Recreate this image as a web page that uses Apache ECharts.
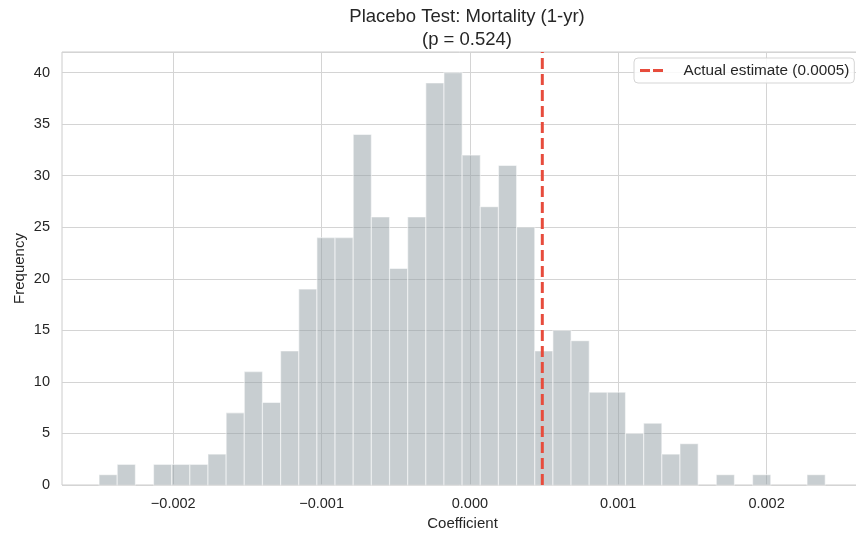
<!DOCTYPE html>
<html>
<head>
<meta charset="utf-8">
<script src="https://cdn.jsdelivr.net/npm/echarts@6/dist/echarts.min.js"></script>
<style>
  html, body { margin: 0; padding: 0; background: #ffffff; }
  #chart { width: 856px; height: 533px; }
</style>
</head>
<body>
<div id="chart"></div>
<script>
// Placebo distribution: 40 equal-width bins of permuted coefficients
const binStart = -0.0025;
const binWidth = 0.00012238;
const binCounts = [1, 2, 0, 2, 2, 2, 3, 7, 11, 8, 13, 19, 24, 24, 34, 26, 21, 26, 39, 40,
                   32, 27, 31, 25, 13, 15, 14, 9, 9, 5, 6, 3, 4, 0, 1, 0, 1, 0, 0, 1];

// Observed treatment effect and its permutation p-value
const actualEstimate = 0.000488;
const pValue = 0.524;

// Axis ranges and tick positions
const xRange = [-0.00275, 0.00265];
const xTicks = [-0.002, -0.001, 0, 0.001, 0.002];
const yRange = [0, 42];
const yTickStep = 5;

const FONT = '"Liberation Sans", Arial, "DejaVu Sans", sans-serif';
const INK = '#262626';
const GRID = '#d4d4d4';
const RED = '#e74c3c';

const bins = binCounts.map((c, i) => {
  const x0 = binStart + i * binWidth;
  return [x0, x0 + binWidth, c];
});

const fmtX = v => {
  const s = Math.abs(v).toFixed(3);
  return v < -1e-12 ? '\u2212' + s : s;
};

const legendName = 'Actual estimate (' + actualEstimate.toFixed(4) + ')';

const chart = echarts.init(document.getElementById('chart'), null, { renderer: 'canvas' });

chart.setOption({
  animation: false,
  backgroundColor: '#ffffff',
  title: {
    text: 'Placebo Test: Mortality (1-yr)\n(p = ' + pValue.toFixed(3) + ')',
    left: 462,
    top: 0,
    textAlign: 'center',
    textStyle: {
      fontFamily: FONT, fontSize: 18.5, fontWeight: 'normal', color: INK, lineHeight: 23
    }
  },
  // plot area runs past the right edge of the canvas
  grid: {
    left: 62, top: 52, width: 801, height: 433,
    outerBoundsMode: 'none',
    containLabel: false,
    show: true, borderColor: '#cccccc', borderWidth: 1, backgroundColor: 'transparent'
  },
  legend: {
    left: 634, top: 58,
    orient: 'vertical',
    padding: [5, 5, 5, 6],
    backgroundColor: 'rgba(255,255,255,0.85)',
    borderColor: '#d5d5d5', borderWidth: 1, borderRadius: 4,
    itemWidth: 24, itemHeight: 3,
    textStyle: { fontFamily: FONT, fontSize: 15.3, color: INK, padding: [0, 0, 0, 15] },
    data: [{
      name: legendName,
      icon: 'path://M0,0H10V3H0Z M13,0H23V3H13Z',
      itemStyle: { color: RED }
    }]
  },
  xAxis: {
    type: 'value',
    min: xRange[0], max: xRange[1],
    name: 'Coefficient',
    nameLocation: 'middle',
    nameGap: 31,
    nameMoveOverlap: false,
    nameTextStyle: { fontFamily: FONT, fontSize: 15, color: INK },
    axisLine: { show: false },
    axisTick: { show: false, customValues: xTicks },
    axisLabel: {
      fontFamily: FONT, fontSize: 14.5, color: INK, margin: 11,
      customValues: xTicks,
      formatter: fmtX
    },
    splitLine: { show: true, lineStyle: { color: GRID, width: 1 } }
  },
  yAxis: {
    type: 'value',
    min: yRange[0], max: yRange[1],
    interval: yTickStep,
    name: 'Frequency',
    nameLocation: 'middle',
    nameRotate: 90,
    nameGap: 35,
    nameMoveOverlap: false,
    nameTextStyle: { fontFamily: FONT, fontSize: 15, color: INK },
    axisLine: { show: false },
    axisTick: { show: false },
    axisLabel: {
      fontFamily: FONT, fontSize: 14.5, color: INK, margin: 12,
      showMaxLabel: false,
      formatter: v => (v % yTickStep === 0 ? String(v) : '')
    },
    splitLine: { show: true, lineStyle: { color: GRID, width: 1 } }
  },
  series: [
    {
      type: 'custom',
      name: 'Placebo estimates',
      data: bins,
      encode: { x: [0, 1], y: 2 },
      renderItem: (params, api) => {
        const count = api.value(2);
        if (!count) return null;
        const top = api.coord([api.value(0), count]);
        const base = api.coord([api.value(1), 0]);
        return {
          type: 'rect',
          shape: { x: top[0], y: top[1], width: base[0] - top[0], height: base[1] - top[1] },
          style: { fill: '#929ea4', stroke: '#ffffff', lineWidth: 1.2, opacity: 0.5 }
        };
      },
      z: 2
    },
    {
      type: 'line',
      name: legendName,
      data: [[actualEstimate, yRange[0]], [actualEstimate, yRange[1]]],
      symbol: 'none',
      lineStyle: { color: RED, width: 3, type: [11, 5] },
      itemStyle: { color: RED },
      z: 3
    }
  ]
});
</script>
</body>
</html>
